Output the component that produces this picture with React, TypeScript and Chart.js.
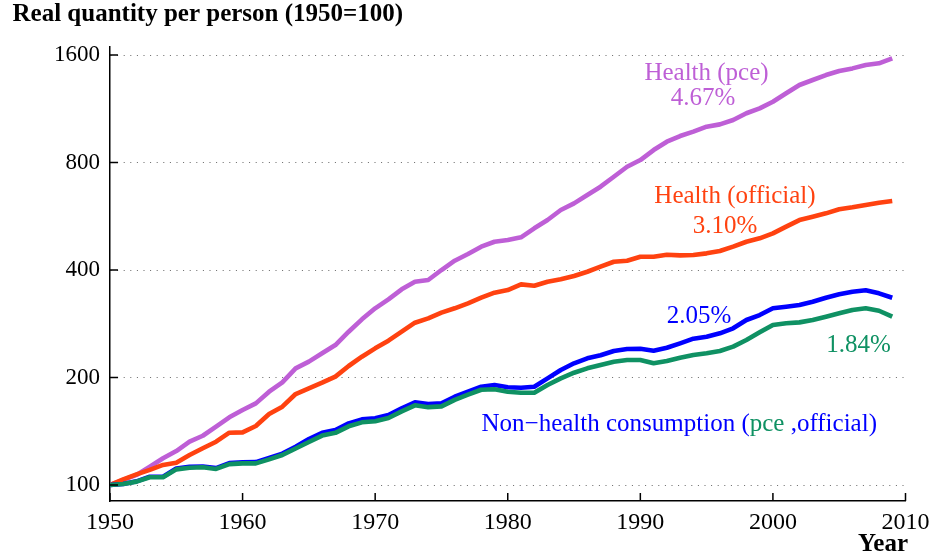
import React, { useEffect, useRef } from 'react';
import { Chart, registerables } from 'chart.js';

Chart.register(...registerables);

const years = [
  1950, 1951, 1952, 1953, 1954, 1955, 1956, 1957, 1958, 1959,
  1960, 1961, 1962, 1963, 1964, 1965, 1966, 1967, 1968, 1969,
  1970, 1971, 1972, 1973, 1974, 1975, 1976, 1977, 1978, 1979,
  1980, 1981, 1982, 1983, 1984, 1985, 1986, 1987, 1988, 1989,
  1990, 1991, 1992, 1993, 1994, 1995, 1996, 1997, 1998, 1999,
  2000, 2001, 2002, 2003, 2004, 2005, 2006, 2007, 2008, 2009,
];

const healthPce = [
  100, 103.3, 106.7, 112.5, 118.8, 124.5, 132.2, 137.4, 145.7, 154.7,
  162.2, 169.3, 182.5, 193.9, 212.2, 221.5, 233.8, 246.6, 268.7, 291.0,
  312.5, 331.1, 353.1, 370.9, 375.0, 400.0, 424.8, 443.5, 465.0, 480.0,
  485.3, 493.9, 523.4, 552.2, 589.0, 614.8, 648.8, 684.5, 730.0, 778.6,
  812.9, 867.0, 915.0, 949.0, 976.0, 1008, 1023, 1052, 1099, 1134,
  1184, 1250, 1319, 1362, 1406, 1443, 1468, 1500, 1517, 1566,
];

const healthOfficial = [
  100, 103.7, 107.1, 110.2, 113.8, 115.5, 121.3, 126.7, 132.2, 140.1,
  140.4, 146.3, 158.0, 165.7, 179.8, 186.5, 193.4, 201.1, 215.4, 228.7,
  241.4, 253.6, 268.7, 284.8, 292.9, 303.8, 312.5, 322.7, 334.6, 345.6,
  351.6, 364.7, 361.5, 370.9, 376.7, 384.8, 395.6, 408.7, 421.9, 424.8,
  435.9, 435.9, 441.4, 439.7, 440.7, 445.4, 452.1, 465.0, 480.0, 490.7,
  506.7, 529.0, 552.0, 564.0, 576.5, 591.6, 599.3, 608.3, 617.4, 624.2,
];

const nonHealthPce = [
  100, 100.6, 102.4, 105.5, 105.5, 111.2, 112.4, 112.7, 111.5, 115.2,
  115.8, 115.9, 119.0, 122.4, 128.0, 134.5, 140.1, 142.6, 148.8, 152.7,
  153.7, 157.0, 164.0, 170.4, 168.6, 169.3, 176.7, 182.5, 188.5, 190.6,
  187.8, 187.3, 188.5, 198.9, 209.9, 219.2, 226.3, 230.8, 237.3, 240.3,
  240.8, 237.7, 242.4, 249.3, 256.9, 260.2, 265.9, 274.7, 289.8, 299.2,
  312.5, 315.8, 319.2, 326.1, 334.6, 342.0, 347.8, 350.9, 344.2, 334.6,
];

const nonHealthOfficial = [
  100, 100.6, 102.2, 105.1, 105.1, 110.6, 111.8, 112.1, 110.9, 114.4,
  115.0, 115.0, 118.0, 121.3, 126.5, 132.0, 137.5, 140.0, 146.0, 149.8,
  150.8, 154.0, 160.8, 167.2, 165.2, 166.0, 173.2, 179.0, 184.8, 185.5,
  182.5, 181.3, 181.3, 190.6, 198.9, 206.3, 212.2, 216.8, 221.5, 223.9,
  223.9, 219.2, 222.4, 227.3, 231.3, 233.8, 237.3, 244.0, 254.7, 267.6,
  280.6, 283.7, 285.4, 289.8, 296.0, 302.5, 309.0, 312.5, 307.6, 296.0,
];

const xTicks = [1950, 1960, 1970, 1980, 1990, 2000, 2010];
const yTicks = [100, 200, 400, 800, 1600];

const titleText = 'Real quantity per person (1950=100)';
const xAxisTitle = 'Year';

const COLORS = {
  purple: '#BE5FD6',
  red: '#FF4210',
  blue: '#0000FF',
  green: '#0F9163',
};

const SERIF = '"Liberation Serif", "Times New Roman", serif';

function toPoints(vals: number[]) {
  return years.map((yr, i) => ({ x: yr, y: vals[i] }));
}

const overlayPlugin = {
  id: 'overlay',
  afterDraw(chart: any) {
    const ctx = chart.ctx as CanvasRenderingContext2D;
    const { left, bottom } = chart.chartArea;
    const xs = chart.scales.x;
    const ys = chart.scales.y;
    ctx.save();
    // inward tick marks
    ctx.strokeStyle = '#000';
    ctx.lineWidth = 1.5;
    ctx.beginPath();
    xTicks.forEach((v) => {
      const px = xs.getPixelForValue(v);
      ctx.moveTo(px, bottom);
      ctx.lineTo(px, bottom - 8);
    });
    yTicks.forEach((v) => {
      const py = ys.getPixelForValue(v);
      ctx.moveTo(left, py);
      ctx.lineTo(left + 8, py);
    });
    ctx.stroke();

    // title and axis label
    ctx.fillStyle = '#000';
    ctx.font = `bold 25px ${SERIF}`;
    ctx.textBaseline = 'alphabetic';
    ctx.textAlign = 'left';
    ctx.fillText(titleText, 12.5, 20.5);
    ctx.textAlign = 'right';
    ctx.fillText(xAxisTitle, 908, 550.5);

    // annotations
    ctx.font = `25px ${SERIF}`;
    ctx.textAlign = 'center';
    ctx.fillStyle = COLORS.purple;
    ctx.fillText('Health (pce)', 706.5, 80);
    ctx.fillText('4.67%', 703, 105);
    ctx.fillStyle = COLORS.red;
    ctx.fillText('Health (official)', 735, 203);
    ctx.fillText('3.10%', 725, 232.5);
    ctx.fillStyle = COLORS.blue;
    ctx.fillText('2.05%', 699, 323);
    ctx.fillStyle = COLORS.green;
    ctx.fillText('1.84%', 858.5, 351.5);

    ctx.textAlign = 'left';
    let x = 481.5;
    const yb = 431;
    const parts: [string, string][] = [
      ['Non\u2212health consumption (', COLORS.blue],
      ['pce', COLORS.green],
      [' ,official)', COLORS.blue],
    ];
    parts.forEach(([t, c]) => {
      ctx.fillStyle = c;
      ctx.fillText(t, x, yb);
      x += ctx.measureText(t).width;
    });
    ctx.restore();
  },
};

export default function App() {
  const canvasRef = useRef<HTMLCanvasElement | null>(null);

  useEffect(() => {
    const canvas = canvasRef.current;
    if (!canvas) return;
    const lineCommon = {
      pointRadius: 0,
      borderWidth: 4.6,
      tension: 0,
      borderJoinStyle: 'round' as const,
      borderCapStyle: 'butt' as const,
      fill: false,
    };
    const chart = new Chart(canvas, {
      type: 'line',
      data: {
        datasets: [
          { label: 'Non-health (official)', data: toPoints(nonHealthOfficial), borderColor: COLORS.green, backgroundColor: COLORS.green, order: 0, ...lineCommon },
          { label: 'Non-health (pce)', data: toPoints(nonHealthPce), borderColor: COLORS.blue, backgroundColor: COLORS.blue, order: 1, ...lineCommon },
          { label: 'Health (official)', data: toPoints(healthOfficial), borderColor: COLORS.red, backgroundColor: COLORS.red, order: 2, ...lineCommon },
          { label: 'Health (pce)', data: toPoints(healthPce), borderColor: COLORS.purple, backgroundColor: COLORS.purple, order: 3, ...lineCommon },
        ],
      },
      options: {
        animation: false,
        responsive: false,
        devicePixelRatio: 1,
        layout: { padding: { top: 47, right: 27.5, left: 0, bottom: 0 } },
        plugins: {
          legend: { display: false },
          tooltip: { enabled: false },
          title: { display: false },
        },
        scales: {
          x: {
            type: 'linear',
            min: 1950,
            max: 2010,
            afterFit: (scale: any) => {
              scale.height = 55;
              scale.paddingLeft = 0;
              scale.paddingRight = 0;
            },
            afterBuildTicks: (axis: any) => { axis.ticks = xTicks.map((v) => ({ value: v })); },
            ticks: {
              callback: (v: any) => String(v),
              color: '#000',
              font: { family: SERIF, size: 24 },
              padding: 7,
              maxRotation: 0,
              autoSkip: false,
            },
            grid: { display: false, drawTicks: false },
            border: { display: true, color: '#000', width: 1.5 },
          },
          y: {
            type: 'logarithmic',
            min: 90.2,
            max: 1685,
            afterFit: (scale: any) => {
              scale.width = 110;
              scale.paddingTop = 0;
              scale.paddingBottom = 0;
            },
            afterBuildTicks: (axis: any) => { axis.ticks = yTicks.map((v) => ({ value: v })); },
            ticks: {
              callback: (v: any) => String(v),
              color: '#000',
              font: { family: SERIF, size: 23 },
              padding: 10,
              autoSkip: false,
            },
            grid: { display: true, drawTicks: false, color: 'rgba(0,0,0,0.6)', lineWidth: 1 },
            border: { display: true, color: '#000', width: 1.5, dash: [1, 5.6] },
          },
        },
      },
      plugins: [overlayPlugin],
    } as any);
    return () => chart.destroy();
  }, []);

  return (
    <div style={{ position: 'absolute', left: 0, top: 0, width: 933, height: 556, background: '#fff' }}>
      <canvas ref={canvasRef} width={933} height={556} style={{ display: 'block', width: 933, height: 556 }} />
    </div>
  );
}
